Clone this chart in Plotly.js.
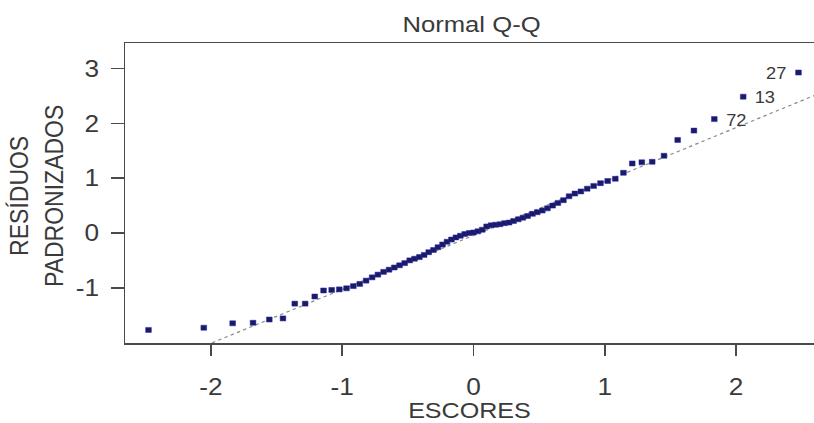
<!DOCTYPE html>
<html>
<head>
<meta charset="utf-8">
<script src="https://cdn.plot.ly/plotly-3.0.1.min.js"></script>
<style>
  html, body { margin: 0; padding: 0; background: #fff; overflow: hidden; width: 814px; height: 423px; }
  #plot { width: 720px; height: 423px; transform: scaleX(1.14); transform-origin: 0 0; }
</style>
</head>
<body>
<div id="plot"></div>
<script>
// Theoretical normal quantiles (ESCORES)
const theoQuantiles = [
  -2.475, -2.054, -1.834, -1.679, -1.555, -1.451, -1.361, -1.282, -1.209, -1.142,
  -1.080, -1.022, -0.967, -0.915, -0.866, -0.818, -0.772, -0.728, -0.685, -0.643,
  -0.603, -0.563, -0.524, -0.486, -0.449, -0.412, -0.376, -0.341, -0.305, -0.271,
  -0.236, -0.202, -0.168, -0.134, -0.100, -0.067, -0.033, 0.000, 0.033, 0.067,
  0.100, 0.134, 0.168, 0.202, 0.236, 0.271, 0.305, 0.341, 0.376, 0.412,
  0.449, 0.486, 0.524, 0.563, 0.603, 0.643, 0.685, 0.728, 0.772, 0.818,
  0.866, 0.915, 0.967, 1.022, 1.080, 1.142, 1.209, 1.282, 1.361, 1.451,
  1.555, 1.679, 1.834, 2.054, 2.475
];
// Standardized residuals (RESÍDUOS PADRONIZADOS), sorted
const residuals = [
  -1.77, -1.73, -1.65, -1.64, -1.58, -1.56, -1.29, -1.29, -1.16, -1.05,
  -1.04, -1.03, -1.01, -0.97, -0.93, -0.87, -0.81, -0.76, -0.71, -0.67,
  -0.63, -0.59, -0.55, -0.50, -0.47, -0.44, -0.40, -0.35, -0.31, -0.26,
  -0.21, -0.16, -0.12, -0.08, -0.05, -0.02, 0.00, 0.01, 0.03, 0.06,
  0.12, 0.14, 0.15, 0.16, 0.18, 0.19, 0.22, 0.25, 0.28, 0.31,
  0.35, 0.38, 0.41, 0.45, 0.50, 0.55, 0.60, 0.67, 0.72, 0.76,
  0.81, 0.86, 0.91, 0.95, 0.99, 1.10, 1.27, 1.29, 1.30, 1.41,
  1.70, 1.87, 2.08, 2.49, 2.93
];
// Labelled observations: label, index into sorted arrays, side
const outlierLabels = ["27", "13", "72"];
const outlierIndex = [74, 73, 72];
const outlierSide = ["left", "right", "right"];
// Reference (qq) line
const qqSlope = 0.985;
const qqIntercept = -0.045;
const xTicks = [-2, -1, 0, 1, 2];
const yTicks = [-1, 0, 1, 2, 3];

const xRange = [-2.651, 2.645];
const yRange = [-2.009, 3.47];

const font = "Liberation Sans, Arial, Helvetica, sans-serif";
const textColor = "#3a3a3a";

const lineTrace = {
  x: xRange,
  y: xRange.map(v => qqIntercept + qqSlope * v),
  mode: "lines",
  line: { color: "#8a8a8a", width: 1.2, dash: "dot" },
  hoverinfo: "skip",
  showlegend: false
};
const pointTrace = {
  x: theoQuantiles,
  y: residuals,
  mode: "markers",
  marker: { symbol: "square", size: 5, color: "#1a1a66", line: { width: 0.5, color: "#2a2aa8" } },
  showlegend: false
};

const annotations = outlierLabels.map((lab, k) => {
  const i = outlierIndex[k];
  const left = outlierSide[k] === "left";
  return {
    x: theoQuantiles[i], y: residuals[i], xref: "x", yref: "y",
    text: lab, showarrow: false,
    xanchor: left ? "right" : "left",
    xshift: left ? -8 : 8, yshift: -1,
    font: { family: font, size: 16, color: textColor }
  };
});
annotations.push({
  text: "Normal Q-Q", xref: "paper", yref: "paper", x: 0.498, y: 1,
  xanchor: "center", yanchor: "middle", yshift: 19, showarrow: false,
  font: { family: font, size: 22.5, color: textColor }
});
annotations.push({
  text: "ESCORES", xref: "paper", yref: "paper", x: 0.4956, y: 0,
  xanchor: "center", yanchor: "middle", yshift: -67, showarrow: false, borderpad: 0,
  font: { family: font, size: 22, color: textColor }
});
annotations.push({
  text: "RESÍDUOS<br>PADRONIZADOS", xref: "paper", yref: "paper", x: 0, y: 0.5,
  xanchor: "center", yanchor: "middle", xshift: -78, yshift: -3, textangle: -90,
  showarrow: false, font: { family: font, size: 23, color: textColor }
});

const layout = {
  width: 720, height: 423,
  margin: { l: 110, r: 0, t: 43, b: 80, pad: 0 },
  paper_bgcolor: "#fff", plot_bgcolor: "#fff",
  showlegend: false,
  xaxis: {
    range: xRange, tickvals: xTicks, ticktext: xTicks.map(String),
    showgrid: false, zeroline: false, showline: true, mirror: true,
    linecolor: "#4a4a4a", linewidth: 1.5,
    ticks: "outside", ticklen: 11, tickwidth: 1.5, tickcolor: "#4a4a4a",
    ticklabelstandoff: 12,
    tickfont: { family: font, size: 23, color: textColor }
  },
  yaxis: {
    range: yRange, tickvals: yTicks, ticktext: yTicks.map(String),
    showgrid: false, zeroline: false, showline: true, mirror: true,
    linecolor: "#4a4a4a", linewidth: 1.5,
    ticks: "outside", ticklen: 11, tickwidth: 1.5, tickcolor: "#4a4a4a",
    ticklabelstandoff: 6,
    tickfont: { family: font, size: 23, color: textColor }
  },
  annotations: annotations
};

Plotly.newPlot("plot", [lineTrace, pointTrace], layout, { displayModeBar: false, staticPlot: true });
</script>
</body>
</html>
